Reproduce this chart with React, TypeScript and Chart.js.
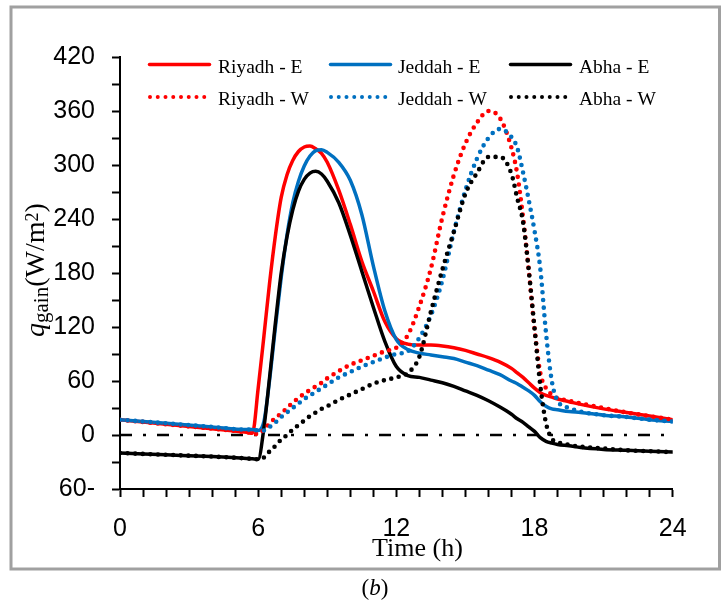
import React, { useEffect, useRef } from 'react';
import { Chart, registerables } from 'chart.js';

Chart.register(...registerables);

// ---- data ----
const hours = [0, 2, 4, 5.5, 5.75, 6, 6.25, 6.5, 6.75, 7, 7.25, 7.5, 7.75, 8, 8.25, 8.5, 8.75, 9, 9.5, 10, 10.5, 11, 11.5, 12, 12.5, 13, 13.5, 14, 14.5, 15, 15.5, 16, 16.5, 17, 17.25, 17.5, 17.75, 18, 18.25, 18.5, 18.75, 19, 19.5, 20, 21, 22, 23, 24];

const riyadhE = [17, 12, 7, 3, 2, 52, 110, 170, 222, 264, 289, 305, 315, 320, 321, 318, 313, 303, 272, 234, 193, 160, 126, 107, 101, 100, 100, 99, 97, 94, 90, 86, 81, 74, 69, 64, 58, 52, 47, 44, 42, 40, 37, 34, 29, 25, 21, 17];
const jeddahE = [17, 13, 9, 6, 6, 5, 15, 62, 120, 175, 222, 258, 282, 299, 310, 316, 317, 314, 303, 283, 245, 188, 138, 106, 95, 91, 89, 87, 85, 81, 77, 72, 67, 60, 57, 53, 49, 44, 37, 32, 29, 28, 26, 25, 22, 20, 17, 15];
const abhaE = [-20, -22, -24, -26, -26.5, -27, 8, 65, 125, 180, 220, 250, 271, 284, 291, 293, 290, 282, 258, 222, 182, 142, 104, 76, 66, 64, 61, 58, 54, 49, 44, 38, 31, 23, 18, 14, 9, 4, -3, -7, -9, -10.5, -12, -14, -16, -17, -18, -19];
const riyadhW = [17, 12, 7, 3, 2, 1, 6, 13, 19, 24, 30, 36, 41, 46, 50, 54, 58, 63, 71, 78, 83, 88, 93, 97, 111, 143, 185, 242, 289, 324, 347, 360, 352, 319, 290, 242, 183, 118, 69, 52, 45, 41, 38, 35, 30, 25, 21, 17];
const jeddahW = [17, 13, 9, 6, 6, 5, 5, 9, 14, 20, 25, 30, 35, 40, 44, 48, 52, 56, 64, 70, 76, 81, 86, 90, 93, 108, 133, 172, 226, 272, 307, 330, 340, 331, 319, 292, 261, 227, 185, 113, 60, 38, 30, 26, 22, 20, 17, 15];
const abhaW = [-20, -22, -24, -26, -26.5, -27, -25, -18, -12, -5, 0, 6, 11, 16, 21, 25, 29, 32, 39, 45, 51, 57, 61, 64, 69, 87, 137, 184, 226, 268, 291, 309, 309, 290, 263, 237, 183, 119, 55, 13, -4, -8, -11, -13, -15, -17, -18, -19];

const refLineX = [0, 24];
const refLineY = [0, 0];

const seriesLabels = ['Riyadh - E', 'Jeddah - E', 'Abha - E', 'Riyadh - W', 'Jeddah - W', 'Abha - W'];
const cityColors = ['#FF0000', '#0070C0', '#000000'];

const xMajorTicks = [0, 6, 12, 18, 24];
const yMajorValues = [-60, 0, 60, 120, 180, 240, 300, 360, 420];
const yMajorLabels = ['60-', '0', '60', '120', '180', '240', '300', '360', '420'];

const xTitle = 'Time (h)';
const caption = ['(', 'b', ')'];

const SERIF = '"Liberation Serif", "Times New Roman", serif';
const SANS = '"Liberation Sans", Arial, sans-serif';

function makeSeries(label: string, values: number[], color: string, dotted: boolean, order: number) {
  return {
    label,
    data: hours.map((h, i) => ({ x: h, y: values[i] })),
    borderColor: color,
    backgroundColor: color,
    borderWidth: dotted ? 4.6 : 3.5,
    borderDash: dotted ? [0, 7.6] : [],
    borderCapStyle: 'round' as const,
    borderJoinStyle: 'round' as const,
    pointRadius: 0,
    cubicInterpolationMode: 'monotone' as const,
    fill: false,
    order,
  };
}

const decorPlugin = {
  id: 'decor',
  beforeDraw(chart: any) {
    const ctx = chart.ctx;
    ctx.save();
    ctx.fillStyle = '#ffffff';
    ctx.fillRect(0, 0, chart.width, chart.height);
    ctx.restore();
  },
  afterDraw(chart: any) {
    const ctx = chart.ctx as CanvasRenderingContext2D;
    ctx.save();

    // outer frame
    ctx.strokeStyle = '#a0a0a0';
    ctx.lineWidth = 3;
    ctx.setLineDash([]);
    ctx.strokeRect(11, 7, 708.5, 562);

    // legend (3 columns x 2 rows)
    const colLine = [148, 329, 509];
    const colText = [218, 398, 579];
    const rowLine = [64.5, 97];
    const rowText = [72.5, 105];
    for (let r = 0; r < 2; r++) {
      for (let c = 0; c < 3; c++) {
        const idx = r * 3 + c;
        ctx.strokeStyle = cityColors[c];
        ctx.lineCap = 'round';
        ctx.beginPath();
        if (r === 0) {
          ctx.setLineDash([]);
          ctx.lineWidth = 3.5;
          ctx.moveTo(colLine[c] + 1.5, rowLine[r]);
          ctx.lineTo(colLine[c] + 61.5, rowLine[r]);
        } else {
          ctx.setLineDash([0, 7.75]);
          ctx.lineWidth = 4;
          ctx.moveTo(colLine[c] + 2, rowLine[r]);
          ctx.lineTo(colLine[c] + 64, rowLine[r]);
        }
        ctx.stroke();
        ctx.setLineDash([]);
        ctx.fillStyle = '#000';
        ctx.font = `19.5px ${SERIF}`;
        ctx.textAlign = 'left';
        ctx.textBaseline = 'alphabetic';
        ctx.fillText(seriesLabels[idx], colText[c], rowText[r]);
      }
    }

    // x title
    ctx.fillStyle = '#000';
    ctx.font = `26px ${SERIF}`;
    ctx.textAlign = 'center';
    ctx.textBaseline = 'alphabetic';
    ctx.fillText(xTitle, 417.5, 556);

    // y title: q_gain (W/m^2), rotated
    ctx.save();
    ctx.translate(44, 337);
    ctx.rotate(-Math.PI / 2);
    ctx.textAlign = 'left';
    let x = 0;
    ctx.font = `italic 28px ${SERIF}`;
    ctx.fillText('q', x, 0);
    x += ctx.measureText('q').width;
    ctx.font = `21px ${SERIF}`;
    ctx.fillText('gain', x, 4);
    x += ctx.measureText('gain').width;
    ctx.font = `28px ${SERIF}`;
    ctx.fillText('(W/m', x, 0);
    x += ctx.measureText('(W/m').width;
    ctx.font = `18px ${SERIF}`;
    ctx.fillText('2', x, -6);
    x += ctx.measureText('2').width;
    ctx.font = `28px ${SERIF}`;
    ctx.fillText(')', x, 0);
    ctx.restore();

    // caption (b)
    const cs = 23;
    ctx.font = `${cs}px ${SERIF}`;
    const wp = ctx.measureText(caption[0]).width;
    const wp2 = ctx.measureText(caption[2]).width;
    ctx.font = `italic ${cs}px ${SERIF}`;
    const wb = ctx.measureText(caption[1]).width;
    let cx = 375 - (wp + wb + wp2) / 2;
    ctx.textAlign = 'left';
    ctx.font = `${cs}px ${SERIF}`;
    ctx.fillText(caption[0], cx, 595);
    cx += wp;
    ctx.font = `italic ${cs}px ${SERIF}`;
    ctx.fillText(caption[1], cx, 595);
    cx += wb;
    ctx.font = `${cs}px ${SERIF}`;
    ctx.fillText(caption[2], cx, 595);

    ctx.restore();
  },
};

export default function App() {
  const ref = useRef<HTMLCanvasElement | null>(null);

  useEffect(() => {
    if (!ref.current) return;
    const datasets: any[] = [
      makeSeries(seriesLabels[0], riyadhE, cityColors[0], false, 6),
      makeSeries(seriesLabels[1], jeddahE, cityColors[1], false, 5),
      makeSeries(seriesLabels[2], abhaE, cityColors[2], false, 4),
      makeSeries(seriesLabels[3], riyadhW, cityColors[0], true, 3),
      makeSeries(seriesLabels[4], jeddahW, cityColors[1], true, 2),
      makeSeries(seriesLabels[5], abhaW, cityColors[2], true, 1),
      {
        label: 'zero',
        data: refLineX.map((v, i) => ({ x: v, y: refLineY[i] })),
        borderColor: '#000',
        borderWidth: 2.5,
        borderDash: [12, 11, 3, 11],
        borderCapStyle: 'butt',
        pointRadius: 0,
        fill: false,
        order: 10,
      },
    ];

    const chart = new Chart(ref.current, {
      type: 'line',
      data: { datasets },
      options: {
        responsive: false,
        animation: false,
        devicePixelRatio: 1,
        layout: { padding: { left: 0, top: 57, right: 52.3, bottom: 0 } },
        plugins: {
          legend: { display: false },
          tooltip: { enabled: false },
          title: { display: false },
        },
        scales: {
          x: {
            type: 'linear',
            min: 0,
            max: 24,
            afterFit: (s: any) => { s.height = 115; },
            ticks: {
              stepSize: 1,
              autoSkip: false,
              maxRotation: 0,
              padding: 17,
              color: '#000',
              font: { family: SANS, size: 25 },
              callback: (v: any) => (xMajorTicks.includes(Number(v)) ? String(v) : ''),
            },
            grid: {
              display: true,
              drawOnChartArea: false,
              drawTicks: true,
              tickLength: 8,
              tickWidth: 2,
              tickColor: '#000',
            },
            border: { display: true, color: '#000', width: 2 },
          },
          y: {
            type: 'linear',
            min: -60,
            max: 420,
            afterFit: (s: any) => { s.width = 120; },
            ticks: {
              stepSize: 30,
              autoSkip: false,
              padding: 17,
              color: '#000',
              font: { family: SANS, size: 25 },
              callback: (v: any) => {
                const i = yMajorValues.indexOf(Number(v));
                return i >= 0 ? yMajorLabels[i] : '';
              },
            },
            grid: {
              display: true,
              drawOnChartArea: false,
              drawTicks: true,
              tickLength: 8,
              tickWidth: 2,
              tickColor: '#000',
            },
            border: { display: true, color: '#000', width: 2 },
          },
        },
      },
      plugins: [decorPlugin],
    } as any);

    return () => chart.destroy();
  }, []);

  return (
    <div style={{ position: 'fixed', left: 0, top: 0, width: 725, height: 604, background: '#fff' }}>
      <canvas ref={ref} width={725} height={604} style={{ display: 'block', width: 725, height: 604 }} />
    </div>
  );
}
